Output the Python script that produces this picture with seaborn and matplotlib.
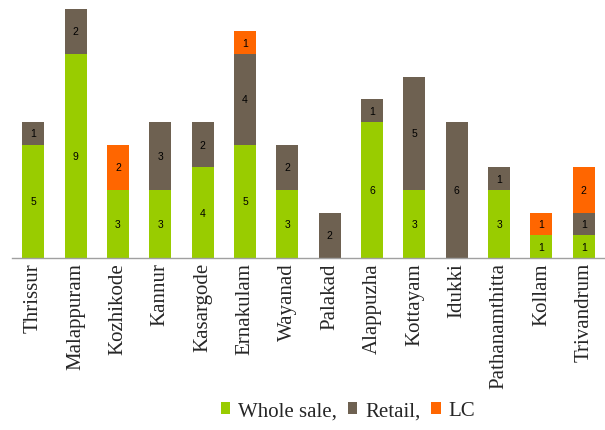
import matplotlib
matplotlib.use("Agg")
import matplotlib.pyplot as plt
import seaborn as sns
import numpy as np
import pandas as pd
from matplotlib.patches import Patch

districts = ["Thrissur", "Malappuram", "Kozhikode", "Kannur", "Kasargode", "Ernakulam",
             "Wayanad", "Palakad", "Alappuzha", "Kottayam", "Idukki", "Pathanamthitta",
             "Kollam", "Trivandrum"]
wholesale = [5, 9, 3, 3, 4, 5, 3, 0, 6, 3, 0, 3, 1, 1]
retail = [1, 2, 0, 3, 2, 4, 2, 2, 1, 5, 6, 1, 0, 1]
lc = [0, 0, 2, 0, 0, 1, 0, 0, 0, 0, 0, 0, 1, 2]
series_names = ["Whole sale,", "Retail,", "LC"]
colors = ["#99CC00", "#6E6151", "#FF6600"]

sns.set_style("white")
plt.rcParams["font.family"] = ["Liberation Serif", "DejaVu Serif"]

w = np.array(wholesale)
r = np.array(retail)
l = np.array(lc)
df = pd.DataFrame({"district": districts, "w": w, "wr": w + r, "wrl": w + r + l})

fig = plt.figure(figsize=(6.05, 4.31), dpi=100)
ax = fig.add_axes([12 / 605, 1 - 259 / 431, 1 - 12 / 605, 254 / 431])

for col, c in zip(["wrl", "wr", "w"], [colors[2], colors[1], colors[0]]):
    sns.barplot(data=df, x="district", y=col, color=c, width=0.52, ax=ax,
                saturation=1, linewidth=0)

bottoms = [np.zeros(len(w)), w, w + r]
for vals, bot in zip([w, r, l], bottoms):
    for i, (v, b) in enumerate(zip(vals, bot)):
        if v > 0:
            ax.text(i, b + v / 2, str(v), ha="center", va="center", fontsize=7.5,
                    family="Liberation Sans", color="black")

ax.set_ylim(0, 11.2)
ax.set_xlim(-0.5, 13.5)
ax.set_xlabel("")
ax.set_ylabel("")
ax.set_yticks([])
ax.tick_params(axis="x", length=0, pad=3)
ax.set_xticks(range(len(districts)))
ax.set_xticklabels(districts, rotation=90, fontsize=15)
for s in ["top", "right", "left"]:
    ax.spines[s].set_visible(False)
ax.spines["bottom"].set_color("#A0A0A0")
ax.spines["bottom"].set_linewidth(1)

handles = [Patch(facecolor=c, edgecolor="none") for c in colors]
fig.legend(handles, series_names, loc="center", bbox_to_anchor=(348 / 605, 1 - 412 / 431),
           ncol=3, frameon=False, fontsize=15, handlelength=0.45, handleheight=0.45,
           handletextpad=0.4, columnspacing=0.5)

fig.savefig("out.png", dpi=100)
